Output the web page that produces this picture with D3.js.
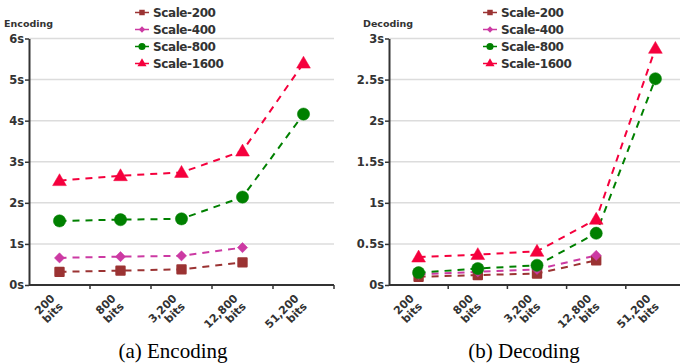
<!DOCTYPE html>
<html>
<head>
<meta charset="utf-8">
<script src="https://cdn.jsdelivr.net/npm/d3@7"></script>
<style>
  body { margin: 0; background: #fff; }
  text { font-family: "DejaVu Sans", sans-serif; }
</style>
</head>
<body>
<div id="container"></div>
<script>
/* CONSTANTS AND DATA */
const width = 680;
const height = 364;

const categories = ["200 bits", "800 bits", "3,200 bits", "12,800 bits", "51,200 bits"];
const seriesNames = ["Scale-200", "Scale-400", "Scale-800", "Scale-1600"];
const seriesColors = ["#9b3333", "#cc3aa3", "#008000", "#f5003d"];

// encoding times (s), null = not measured
const encScale200 = [0.32, 0.35, 0.38, 0.55, null];
const encScale400 = [0.66, 0.69, 0.71, 0.91, null];
const encScale800 = [1.56, 1.59, 1.61, 2.14, 4.16];
const encScale1600 = [2.54, 2.66, 2.74, 3.26, 5.40];
const encTicks = [0, 1, 2, 3, 4, 5, 6];

// decoding times (s)
const decScale200 = [0.10, 0.12, 0.14, 0.30, null];
const decScale400 = [0.13, 0.16, 0.19, 0.36, null];
const decScale800 = [0.15, 0.20, 0.24, 0.63, 2.51];
const decScale1600 = [0.34, 0.37, 0.41, 0.80, 2.88];
const decTicks = [0, 0.5, 1, 1.5, 2, 2.5, 3];

// marker shapes: square, diamond (rotated square), circle, triangle
const markers = [
  { type: d3.symbolSquare, size: 70, rot: 0 },
  { type: d3.symbolSquare, size: 52, rot: 45 },
  { type: d3.symbolCircle, size: 118, rot: 0 },
  { type: d3.symbolTriangle, size: 82, rot: 0 }
];

const svg = d3.select("#container")
  .append("svg")
  .attr("width", width)
  .attr("height", height);

function drawPanel(opts) {
  const g = svg.append("g");
  const x = d3.scaleBand().domain(categories).range([opts.left, opts.right]);
  const y = d3.scaleLinear().domain([0, opts.max]).range([285, 38.5]);

  // gridlines
  g.selectAll(".grid")
    .data(opts.ticks.filter(t => t > 0))
    .enter()
    .append("line")
    .attr("x1", opts.left)
    .attr("x2", opts.right)
    .attr("y1", d => y(d))
    .attr("y2", d => y(d))
    .attr("stroke", "#dcdcdc")
    .attr("stroke-width", 1.5);

  // y axis
  const yAxis = g.append("g")
    .attr("transform", `translate(${opts.left},0)`)
    .call(d3.axisLeft(y).tickValues(opts.ticks).tickSize(4).tickSizeOuter(0).tickFormat(d => d + "s"));
  yAxis.select(".domain").attr("stroke", "#333").attr("stroke-width", 2);
  yAxis.selectAll(".tick line").attr("stroke", "#333").attr("stroke-width", 1.5);
  yAxis.selectAll(".tick text")
    .attr("fill", "#333")
    .style("font-size", "11.5px")
    .style("font-weight", "bold")
    .attr("x", -5);

  // x axis
  const xAxis = g.append("g")
    .attr("transform", "translate(0,285)");
  xAxis.append("line")
    .attr("x1", opts.left).attr("x2", opts.right)
    .attr("stroke", "#333").attr("stroke-width", 2);
  xAxis.selectAll(".xtick")
    .data(categories)
    .enter()
    .append("line")
    .attr("x1", d => x(d) + x.step())
    .attr("x2", d => x(d) + x.step())
    .attr("y1", 0).attr("y2", 4)
    .attr("stroke", "#333").attr("stroke-width", 1.5);

  const labels = xAxis.selectAll(".xlabel")
    .data(categories)
    .enter()
    .append("text")
    .attr("transform", d => `translate(${x(d) + x.bandwidth() / 2 - 4},14) rotate(-45)`)
    .attr("text-anchor", "end")
    .attr("fill", "#333")
    .style("font-size", "11px")
    .style("font-weight", "bold");
  labels.append("tspan")
    .attr("x", 0).attr("dy", 0)
    .text(d => d.split(" ")[0]);
  labels.append("tspan")
    .attr("x", 0).attr("dy", "1.05em")
    .text(d => d.split(" ")[1]);

  // panel title
  g.append("text")
    .attr("x", opts.titleX)
    .attr("y", 27)
    .attr("fill", "#333")
    .style("font-size", "9.5px")
    .style("font-weight", "bold")
    .text(opts.title);

  // series
  const line = d3.line()
    .defined(d => d != null)
    .x((d, i) => x(categories[i]) + x.bandwidth() / 2)
    .y(d => y(d));

  opts.series.forEach((vals, s) => {
    g.append("path")
      .datum(vals)
      .attr("fill", "none")
      .attr("stroke", seriesColors[s])
      .attr("stroke-width", 2)
      .attr("stroke-dasharray", "7,6")
      .attr("d", line);
  });
  opts.series.forEach((vals, s) => {
    const m = markers[s];
    g.selectAll(".m" + s)
      .data(vals.map((v, i) => ({ v, i })).filter(d => d.v != null))
      .enter()
      .append("path")
      .attr("d", d3.symbol().type(m.type).size(m.size))
      .attr("transform", d => `translate(${x(categories[d.i]) + x.bandwidth() / 2},${y(d.v) + (s === 3 ? 1 : 0)}) rotate(${m.rot})`)
      .attr("fill", seriesColors[s])
      .attr("stroke", seriesColors[s])
      .attr("stroke-width", s === 0 ? 2 : 0.5)
      .attr("stroke-linejoin", "round");
  });

  // legend
  const leg = g.selectAll(".leg")
    .data(seriesNames)
    .enter()
    .append("g")
    .attr("transform", (d, i) => `translate(${opts.legendX},${12.5 + i * 17})`);
  leg.append("line")
    .attr("x1", 0).attr("x2", 14)
    .attr("stroke", (d, i) => seriesColors[i])
    .attr("stroke-width", 1.5);
  leg.append("path")
    .attr("d", (d, i) => d3.symbol().type(markers[i].type).size([30, 20, 40, 36][i])())
    .attr("transform", (d, i) => `translate(7,0) rotate(${markers[i].rot})`)
    .attr("fill", (d, i) => seriesColors[i]);
  leg.append("text")
    .attr("x", 18)
    .attr("dy", "0.35em")
    .attr("fill", "#333")
    .style("font-size", "12px")
    .style("letter-spacing", "-0.4px")
    .style("font-weight", "bold")
    .text(d => d);

  // caption
  svg.append("text")
    .attr("x", opts.captionX)
    .attr("y", 358)
    .attr("text-anchor", "middle")
    .attr("fill", "#000")
    .style("font-family", "'Liberation Serif', 'DejaVu Serif', serif")
    .style("font-size", "21px")
    .text(opts.caption);
}

drawPanel({
  left: 29, right: 334, max: 6, ticks: encTicks,
  series: [encScale200, encScale400, encScale800, encScale1600],
  title: "Encoding", titleX: 4, legendX: 135,
  caption: "(a) Encoding", captionX: 173
});

drawPanel({
  left: 389, right: 685, max: 3, ticks: decTicks,
  series: [decScale200, decScale400, decScale800, decScale1600],
  title: "Decoding", titleX: 363, legendX: 483,
  caption: "(b) Decoding", captionX: 524
});
</script>
</body>
</html>
